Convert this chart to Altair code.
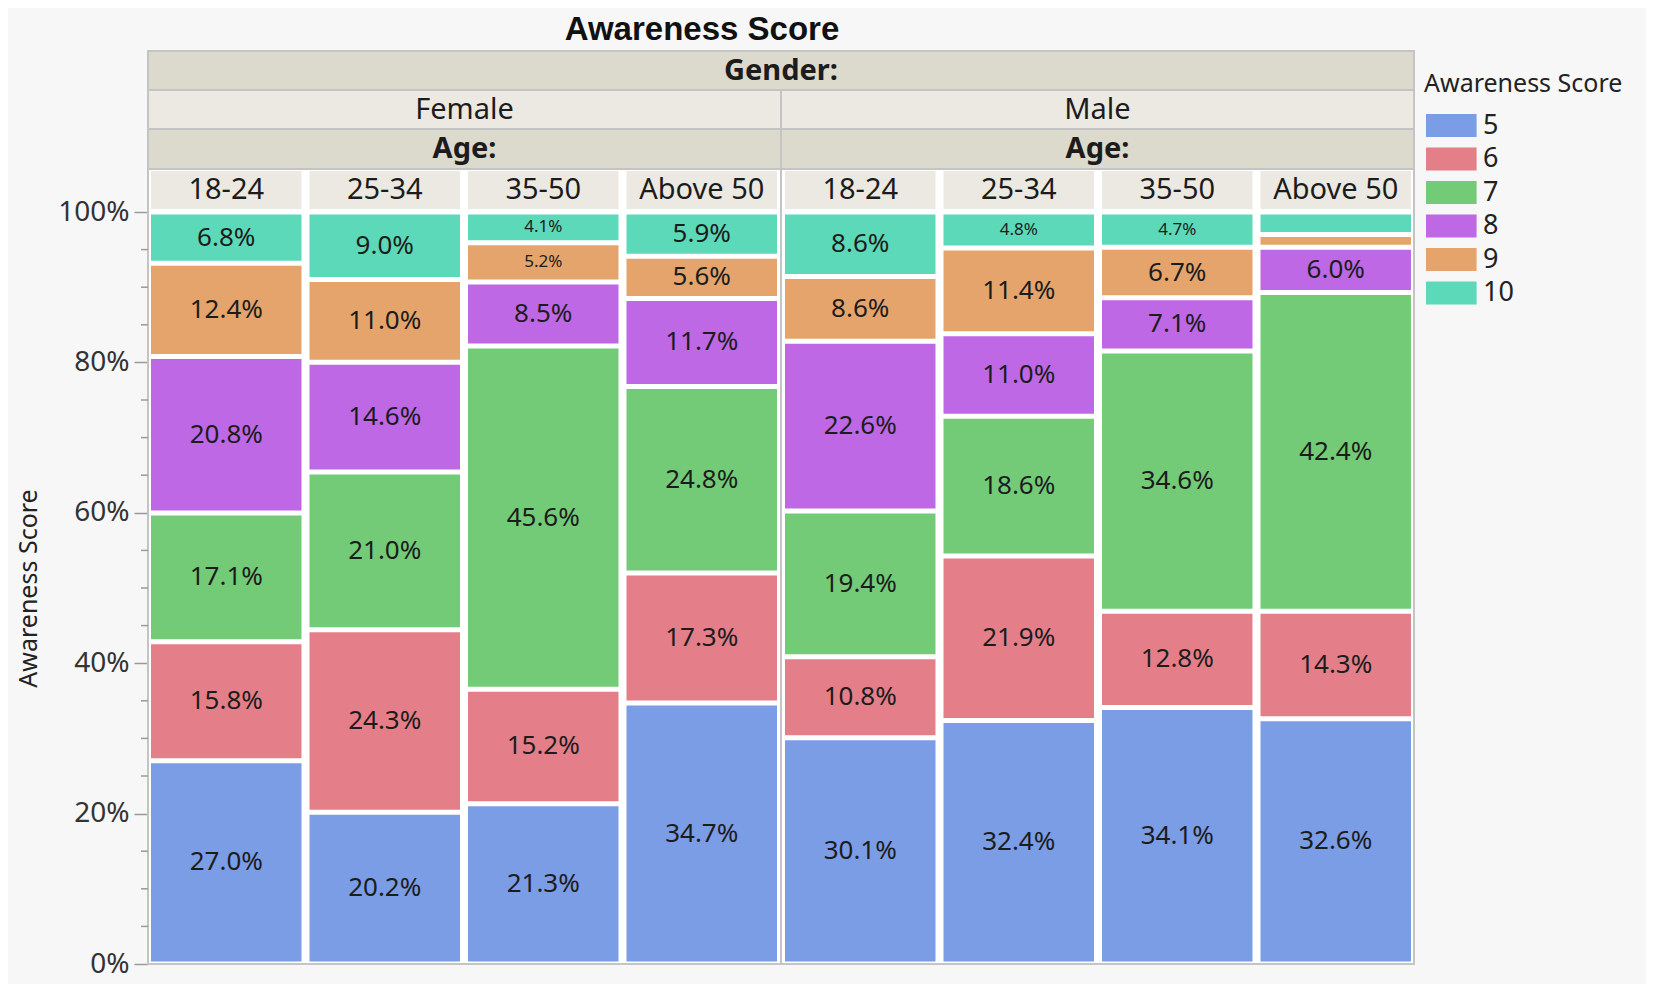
import altair as alt
import pandas as pd

# ---------------- data ----------------
genders = ["Female", "Male"]
ages = ["18-24", "25-34", "35-50", "Above 50"]
scores = ["5", "6", "7", "8", "9", "10"]

female_18_24 = [27.0, 15.8, 17.1, 20.8, 12.4, 6.8]
female_25_34 = [20.2, 24.3, 21.0, 14.6, 11.0, 9.0]
female_35_50 = [21.3, 15.2, 45.6, 8.5, 5.2, 4.1]
female_above_50 = [34.7, 17.3, 24.8, 11.7, 5.6, 5.9]
male_18_24 = [30.1, 10.8, 19.4, 22.6, 8.6, 8.6]
male_25_34 = [32.4, 21.9, 18.6, 11.0, 11.4, 4.8]
male_35_50 = [34.1, 12.8, 34.6, 7.1, 6.7, 4.7]
male_above_50 = [32.6, 14.3, 42.4, 6.0, 1.7, 3.0]

score_colors = ["#7b9de6", "#e47f8a", "#73cb78", "#be68e6", "#e5a46c", "#5bd9b8"]
minor_ticks = [0.05, 0.10, 0.15, 0.25, 0.30, 0.35, 0.45, 0.50, 0.55,
               0.65, 0.70, 0.75, 0.85, 0.90, 0.95]
major_ticks = [0, 0.2, 0.4, 0.6, 0.8, 1.0]

series = {
    ("Female", "18-24"): female_18_24,
    ("Female", "25-34"): female_25_34,
    ("Female", "35-50"): female_35_50,
    ("Female", "Above 50"): female_above_50,
    ("Male", "18-24"): male_18_24,
    ("Male", "25-34"): male_25_34,
    ("Male", "35-50"): male_35_50,
    ("Male", "Above 50"): male_above_50,
}

rows = []
for g in genders:
    for a in ages:
        vals = series[(g, a)]
        tot = sum(vals)
        cum = 0.0
        for s, v in zip(scores, vals):
            y0 = cum / tot
            cum += v
            y1 = cum / tot
            rows.append(dict(col=f"{g} {a}", gender=g, age=a, score=s, pct=v,
                             y0=y0, y1=y1, ymid=(y0 + y1) / 2,
                             label=(f"{v:.1f}%" if v >= 3.5 else ""),
                             fs=(17 if v < 5.5 else 26)))
df = pd.DataFrame(rows)
col_order = [f"{g} {a}" for g in genders for a in ages]
age_df = pd.DataFrame([dict(col=f"{g} {a}", age=a) for g in genders for a in ages])
gender_df = pd.DataFrame(dict(gender=genders, t=["Age:", "Age:"]))
one_df = pd.DataFrame(dict(t=["Gender:"]))
minor_df = pd.DataFrame(dict(y1=minor_ticks))

# ---------------- style ----------------
W, H = 1266, 752
FONT = "Noto Sans"
DARK = "#dcdacc"
LIGHT = "#ebe9e1"
BORDER = "#c4c4c4"
TXT = "#1c1c1c"
YT = "Awareness Score"
HF = 29  # header font size

x_col = alt.X("col:N", sort=col_order, axis=None,
              scale=alt.Scale(type="band", paddingInner=0.0505, paddingOuter=0.019))
x_gender = alt.X("gender:N", sort=genders, axis=None,
                 scale=alt.Scale(type="band", paddingInner=0, paddingOuter=0))

y_main = alt.Y("y1:Q", title=YT,
               scale=alt.Scale(domain=[0, 1], nice=False),
               axis=alt.Axis(values=major_ticks, format=".0%", grid=False, domain=False,
                             tickSize=14, tickColor="#9a9a9a", tickWidth=1.5,
                             labelFontSize=28, labelColor="#333333", labelPadding=5,
                             titleFontSize=25, titleFontWeight="normal", titleColor="#222222",
                             titlePadding=16, labelFont=FONT, titleFont=FONT))

frame = alt.Chart(pd.DataFrame(dict(gender=genders))).mark_rect(
    fill="white", stroke=BORDER, strokeWidth=2).encode(
    x=x_gender, y=alt.value(-43), y2=alt.value(H))

bars = alt.Chart(df).mark_rect(yOffset=2.5, y2Offset=-2.5).encode(
    x=x_col,
    y=y_main,
    y2="y0:Q",
    color=alt.Color("score:N", sort=scores,
                    scale=alt.Scale(domain=scores, range=score_colors),
                    legend=alt.Legend(orient="none", legendX=1276, legendY=-140,
                                      title="Awareness Score", titleFontSize=25,
                                      titleFontWeight="normal", titleColor="#222222",
                                      titleFont=FONT, titlePadding=15, titleLimit=400,
                                      labelFontSize=27, labelColor="#222222", labelFont=FONT,
                                      symbolType="M-1,-1H3.4V1H-1Z", symbolSize=529,
                                      symbolStrokeWidth=0, symbolOpacity=1,
                                      labelOffset=32, rowPadding=5.5)),
)

labels = alt.Chart(df).transform_filter("datum.label != ''").mark_text(
    color=TXT, font=FONT, baseline="middle").encode(
    x=x_col,
    y=alt.Y("ymid:Q", title=YT),
    text="label:N",
    size=alt.Size("fs:Q", scale=None, legend=None),
)

minor = alt.Chart(minor_df).mark_rule(color="#9a9a9a", strokeWidth=1.5).encode(
    y=alt.Y("y1:Q", title=YT), x=alt.value(-7), x2=alt.value(0))

gender_band = alt.Chart(one_df).mark_rect(fill=DARK, stroke=BORDER, strokeWidth=2).encode(
    x=alt.value(0), x2=alt.value(W), y=alt.value(-161), y2=alt.value(-122))
gender_title = alt.Chart(one_df).mark_text(font=FONT, fontSize=HF, fontWeight="bold",
                                           color=TXT, baseline="middle").encode(
    x=alt.value(W / 2), y=alt.value(-141.5), text="t:N")

gender_cells = alt.Chart(gender_df).mark_rect(fill=LIGHT, stroke=BORDER, strokeWidth=2).encode(
    x=x_gender, y=alt.value(-122), y2=alt.value(-83))
gender_text = alt.Chart(gender_df).mark_text(font=FONT, fontSize=HF, color=TXT,
                                             baseline="middle").encode(
    x=x_gender, y=alt.value(-102.5), text="gender:N")

age_band = alt.Chart(gender_df).mark_rect(fill=DARK, stroke=BORDER, strokeWidth=2).encode(
    x=x_gender, y=alt.value(-83), y2=alt.value(-43))
age_title = alt.Chart(gender_df).mark_text(font=FONT, fontSize=HF, fontWeight="bold",
                                           color=TXT, baseline="middle").encode(
    x=x_gender, y=alt.value(-63), text="t:N")

age_cells = alt.Chart(age_df).mark_rect(fill=LIGHT).encode(
    x=x_col, y=alt.value(-41), y2=alt.value(-3))
age_text = alt.Chart(age_df).mark_text(font=FONT, fontSize=HF, color=TXT,
                                       baseline="middle").encode(
    x=x_col, y=alt.value(-22), text="age:N")

chart = alt.layer(
    frame, bars, labels, minor,
    gender_band, gender_title, gender_cells, gender_text,
    age_band, age_title, age_cells, age_text,
).resolve_scale(x="independent").properties(
    width=W, height=H,
    background="#f7f7f7",
    autosize=alt.AutoSizeParams(type="none"),
    padding={"left": 140, "top": 204, "right": 232, "bottom": 20},
    title=alt.TitleParams("Awareness Score", font="Liberation Sans", fontSize=33,
                          fontWeight="bold", color="#111111", anchor="start",
                          align="center", dx=554, frame="group", offset=3),
).configure_view(stroke=None)

chart.save("out.html", embed_options={"renderer": "svg", "actions": False})
